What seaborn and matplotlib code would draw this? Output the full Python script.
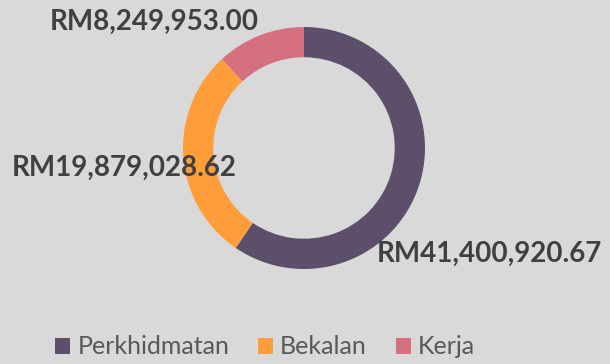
import matplotlib
matplotlib.use("Agg")
import matplotlib.pyplot as plt
from matplotlib.patches import Patch
import seaborn as sns

categories = ["Perkhidmatan", "Bekalan", "Kerja"]
values = [41400920.67, 19879028.62, 8249953.00]
colors = ["#5c4f6a", "#ff9d3a", "#d5717f"]

sns.set_theme(style="white")
plt.rcParams["font.family"] = ["Lato", "DejaVu Sans"]

W, H = 610, 364
fig = plt.figure(figsize=(W / 100, H / 100), dpi=100)
fig.patch.set_facecolor("#d9d9d9")

cx, cy, r = 304, 148, 121
ax = fig.add_axes([(cx - r) / W, (H - cy - r) / H, 2 * r / W, 2 * r / H])
ax.set_facecolor("#d9d9d9")

wedges, _ = ax.pie(values, colors=colors, startangle=90, counterclock=False,
                   radius=1.0, wedgeprops=dict(width=0.25, edgecolor="none"))
ax.set_xlim(-1, 1)
ax.set_ylim(-1, 1)
ax.set_aspect("equal")
ax.axis("off")

def fmt(v):
    return f"RM{v:,.2f}"

# data labels (pixel positions of label left edge / vertical center)
label_pos = [(377, 254), (12, 168), (50, 22)]
for v, (px, py) in zip(values, label_pos):
    fig.text(px / W, 1 - py / H, fmt(v), ha="left", va="center",
             fontsize=20, fontweight="bold", color="#404040")

handles = [Patch(facecolor=c, edgecolor="none") for c in colors]
leg = fig.legend(handles, categories, loc="center", ncol=3,
                 bbox_to_anchor=(265 / W, 1 - 347 / H), frameon=False,
                 fontsize=18, handlelength=0.6, handleheight=0.6,
                 handletextpad=0.28, columnspacing=1.15, labelcolor="#595959")

fig.savefig("out.png", dpi=100, facecolor=fig.get_facecolor())
